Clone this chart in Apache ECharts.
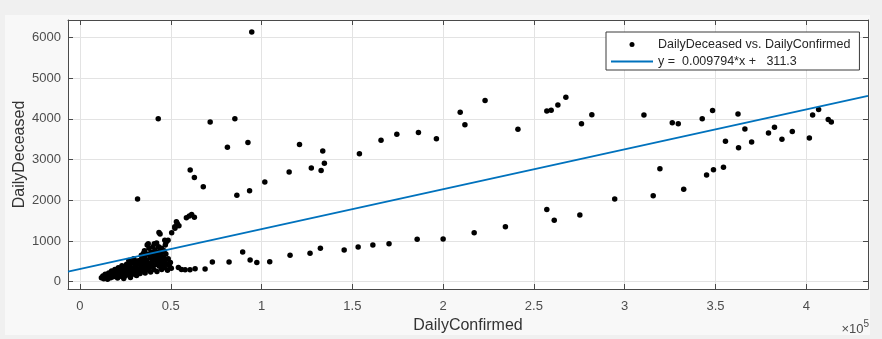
<!DOCTYPE html>
<html>
<head>
<meta charset="utf-8">
<script src="https://cdn.jsdelivr.net/npm/echarts@6/dist/echarts.min.js"></script>
<style>
  html, body { margin: 0; padding: 0; background: #f0f0f0; }
  #chart { width: 882px; height: 339px; }
</style>
</head>
<body>
<div id="chart"></div>
<script>
// Daily confirmed cases (x) against daily deaths (y)
const dailyConfirmed = [
  // dense low-count cluster
  11800, 12600, 13100, 13900, 14300, 15200, 15800, 16100, 16900, 17400,
  17800, 18300, 18900, 19200, 19800, 20300, 20700, 21100, 21600, 22200,
  22500, 23100, 23400, 23900, 24400, 24800, 25300, 25700, 26200, 26600,
  27100, 27500, 28000, 28400, 28900, 29300, 29800, 30200, 30600, 31000,
  31400, 31900, 32300, 32700, 33100, 33600, 34000, 34300, 34800, 35200,
  35600, 35900, 36300, 36700, 37100, 37500, 37800, 38200, 38600, 38900,
  39300, 39600, 40000, 40400, 40700, 41000, 41300, 41700, 42000, 42400,
  42700, 43000, 43300, 43700, 44000, 44300, 44700, 45000, 45400, 45800,
  46100, 46500, 46900, 47300, 47800, 48200, 48600, 49200, 49800, 50300,
  37000, 35500, 40900, 33800, 29600, 26900, 42200, 38000, 31200, 27800,
  24100, 44900, 47000, 36100, 39800, 41800, 43900, 45600, 34600, 32800,
  30900, 28700, 40200, 46300, 38700, 42900, 35000, 44500,
  // rising branch
  37600, 43500, 44100, 46700, 47400, 48500, 50500, 52200, 52300, 53100,
  53600, 54500, 58600, 60200, 61500, 63000,
  // lower branch
  54200, 55900, 57900, 60600, 63400, 68900, 72900, 82100, 89600, 93700,
  97400, 104500, 115700, 126700, 132400, 145500, 153200, 161300, 170200, 185700,
  200000, 217100, 234300, 257100, 261200, 275300, 294500, 315700, 332500,
  // middle and upper branch
  31700, 43100, 60700, 63000, 67900, 71700, 81200, 85300, 86400, 92500,
  93400, 94600, 101800, 115200, 120900, 127400, 132800, 133700, 134600, 153900,
  165800, 174500, 186400, 196300, 209400, 212000, 223100, 241200, 257100, 259500,
  263200, 267600, 276200, 281900, 310600, 319400, 326200, 329500, 342700, 345100,
  348400, 348900, 354400, 355500, 362400, 362700, 366200, 369900, 379200, 382500,
  386600, 392300, 401700, 403500, 406800, 412100, 413800
];
const dailyDeceased = [
  95, 140, 70, 180, 110, 60, 210, 150, 95, 260,
  170, 120, 230, 300, 150, 210, 90, 340, 250, 180,
  130, 390, 290, 200, 350, 140, 270, 430, 210, 320,
  160, 380, 250, 470, 190, 330, 280, 420, 170, 360,
  510, 240, 300, 440, 200, 380, 560, 260, 470, 330,
  620, 210, 400, 530, 290, 680, 450, 350, 590, 240,
  720, 480, 380, 640, 300, 530, 780, 420, 610, 250,
  700, 520, 860, 380, 640, 470, 560, 300, 720, 420,
  600, 350, 520, 680, 440, 280, 560, 390, 470, 330,
  900, 760, 930, 650, 560, 520, 950, 820, 150, 100,
  80, 820, 900, 480, 560, 690, 750, 540, 410, 520,
  460, 330, 860, 760, 640, 560, 700, 610,
  930, 1210, 1170, 1020, 960, 1020, 1200, 1350, 1310, 1470,
  1430, 1370, 1570, 1610, 1650, 1580,
  350, 300, 290, 290, 320, 310, 480, 480, 730, 530,
  470, 490, 650, 700, 820, 780, 850, 900, 930, 1040,
  1050, 1200, 1350, 1770, 1510, 1640, 2030, 2110, 2270,
  2030, 4000, 2740, 2560, 2330, 3920, 3300, 4000, 2120, 3420,
  2230, 6130, 2450, 2690, 3370, 2790, 2730, 3210, 2910, 3140,
  3470, 3620, 3660, 3510, 4160, 3850, 4450, 3740, 4190, 4210,
  4340, 4530, 3880, 4100, 4090, 2770, 3900, 3880, 4000, 2620,
  4200, 2750, 2810, 3450, 4120, 3290, 3750, 3430, 3650, 3790,
  3500, 3690, 3530, 4090, 4230, 3980, 3920
];

// Linear fit: y = slope * x + intercept
const fitSlope = [0.009794];
const fitIntercept = [311.3];

// Axis ranges and tick labelling
const xRange = [-6600, 434000];
const yRange = [-180, 6425];
const xTickStep = 50000;
const xTickScale = 100000;
const yTickStep = 1000;

const scatterName = 'DailyDeceased vs. DailyConfirmed';
const fitName = 'y =  ' + fitSlope[0] + '*x +   ' + fitIntercept[0];

const points = dailyConfirmed.map((x, i) => [x, dailyDeceased[i]]);
const fitLine = xRange.map(x => [x, fitSlope[0] * x + fitIntercept[0]]);

const FONT = '"Liberation Sans", Arial, sans-serif';
const boxColor = '#4a4a4a';
const gridColor = '#e3e3e3';

const chart = echarts.init(document.getElementById('chart'), null, { renderer: 'canvas' });

const frameAxis = {
  axisLine: { show: true, onZero: false, lineStyle: { color: boxColor, width: 1 } },
  axisTick: { show: true, inside: true, length: 5, lineStyle: { color: boxColor } },
  axisLabel: { show: false },
  splitLine: { show: false }
};

chart.setOption({
  backgroundColor: '#f0f0f0',
  animation: false,
  graphic: [
    {
      type: 'rect', z: -10, silent: true,
      shape: { x: 5, y: 15, width: 865, height: 320 },
      style: { fill: '#f8f8f8' }
    },
    {
      type: 'text', right: 13, top: 319,
      style: {
        text: '{a|×10}{b|5}',
        rich: {
          a: { fontFamily: FONT, fontSize: 13, fill: '#4d4d4d', verticalAlign: 'bottom' },
          b: { fontFamily: FONT, fontSize: 10, fill: '#4d4d4d', verticalAlign: 'top', padding: [0, 0, 7, 0] }
        }
      }
    }
  ],
  grid: { left: 68, top: 20, width: 800, height: 269, backgroundColor: '#ffffff', show: true, borderWidth: 0 },
  legend: {
    orient: 'vertical',
    left: 606, top: 32,
    padding: [6, 9, 2, 4],
    itemGap: 4,
    itemWidth: 42,
    itemHeight: 5,
    backgroundColor: '#ffffff',
    borderColor: '#3a3a3a',
    borderWidth: 1,
    borderRadius: 0,
    textStyle: { fontFamily: FONT, fontSize: 12.5, color: '#262626' },
    data: [
      { name: scatterName, icon: 'circle' },
      { name: fitName, itemStyle: { color: 'rgba(0,0,0,0)', borderWidth: 0 } }
    ]
  },
  xAxis: [
    {
      type: 'value', position: 'bottom',
      min: xRange[0], max: xRange[1], splitNumber: 9,
      name: 'DailyConfirmed', nameLocation: 'middle', nameGap: 29, nameMoveOverlap: false,
      nameTextStyle: { fontFamily: FONT, fontSize: 16, color: '#333' },
      axisLine: { show: true, onZero: false, lineStyle: { color: boxColor, width: 1 } },
      axisTick: { show: true, inside: true, length: 5, lineStyle: { color: boxColor } },
      axisLabel: {
        fontFamily: FONT, fontSize: 13, color: '#4d4d4d', margin: 11,
        formatter: v => (Math.abs(v % xTickStep) < 1e-6 ? String(v / xTickScale) : '')
      },
      splitLine: { show: true, lineStyle: { color: gridColor, width: 1 } }
    },
    Object.assign({
      type: 'value', position: 'top',
      min: xRange[0], max: xRange[1], splitNumber: 9
    }, frameAxis)
  ],
  yAxis: [
    {
      type: 'value', position: 'left',
      min: yRange[0], max: yRange[1], splitNumber: 7,
      name: 'DailyDeceased', nameLocation: 'middle', nameGap: 40, nameMoveOverlap: false,
      nameTextStyle: { fontFamily: FONT, fontSize: 16, color: '#333' },
      axisLine: { show: true, onZero: false, lineStyle: { color: boxColor, width: 1 } },
      axisTick: { show: true, inside: true, length: 5, lineStyle: { color: boxColor } },
      axisLabel: {
        fontFamily: FONT, fontSize: 13, color: '#4d4d4d', margin: 7,
        formatter: v => (Math.abs(v % yTickStep) < 1e-6 ? String(v) : '')
      },
      splitLine: { show: true, lineStyle: { color: gridColor, width: 1 } }
    },
    Object.assign({
      type: 'value', position: 'right',
      min: yRange[0], max: yRange[1], splitNumber: 7
    }, frameAxis)
  ],
  series: [
    {
      name: scatterName,
      type: 'scatter',
      symbol: 'circle',
      symbolSize: 5.5,
      itemStyle: { color: '#000000', opacity: 1 },
      data: points,
      z: 3
    },
    {
      name: fitName,
      type: 'line',
      symbol: 'none',
      lineStyle: { color: '#0072bd', width: 2 },
      itemStyle: { color: '#0072bd' },
      data: fitLine,
      z: 4
    }
  ]
});
</script>
</body>
</html>
